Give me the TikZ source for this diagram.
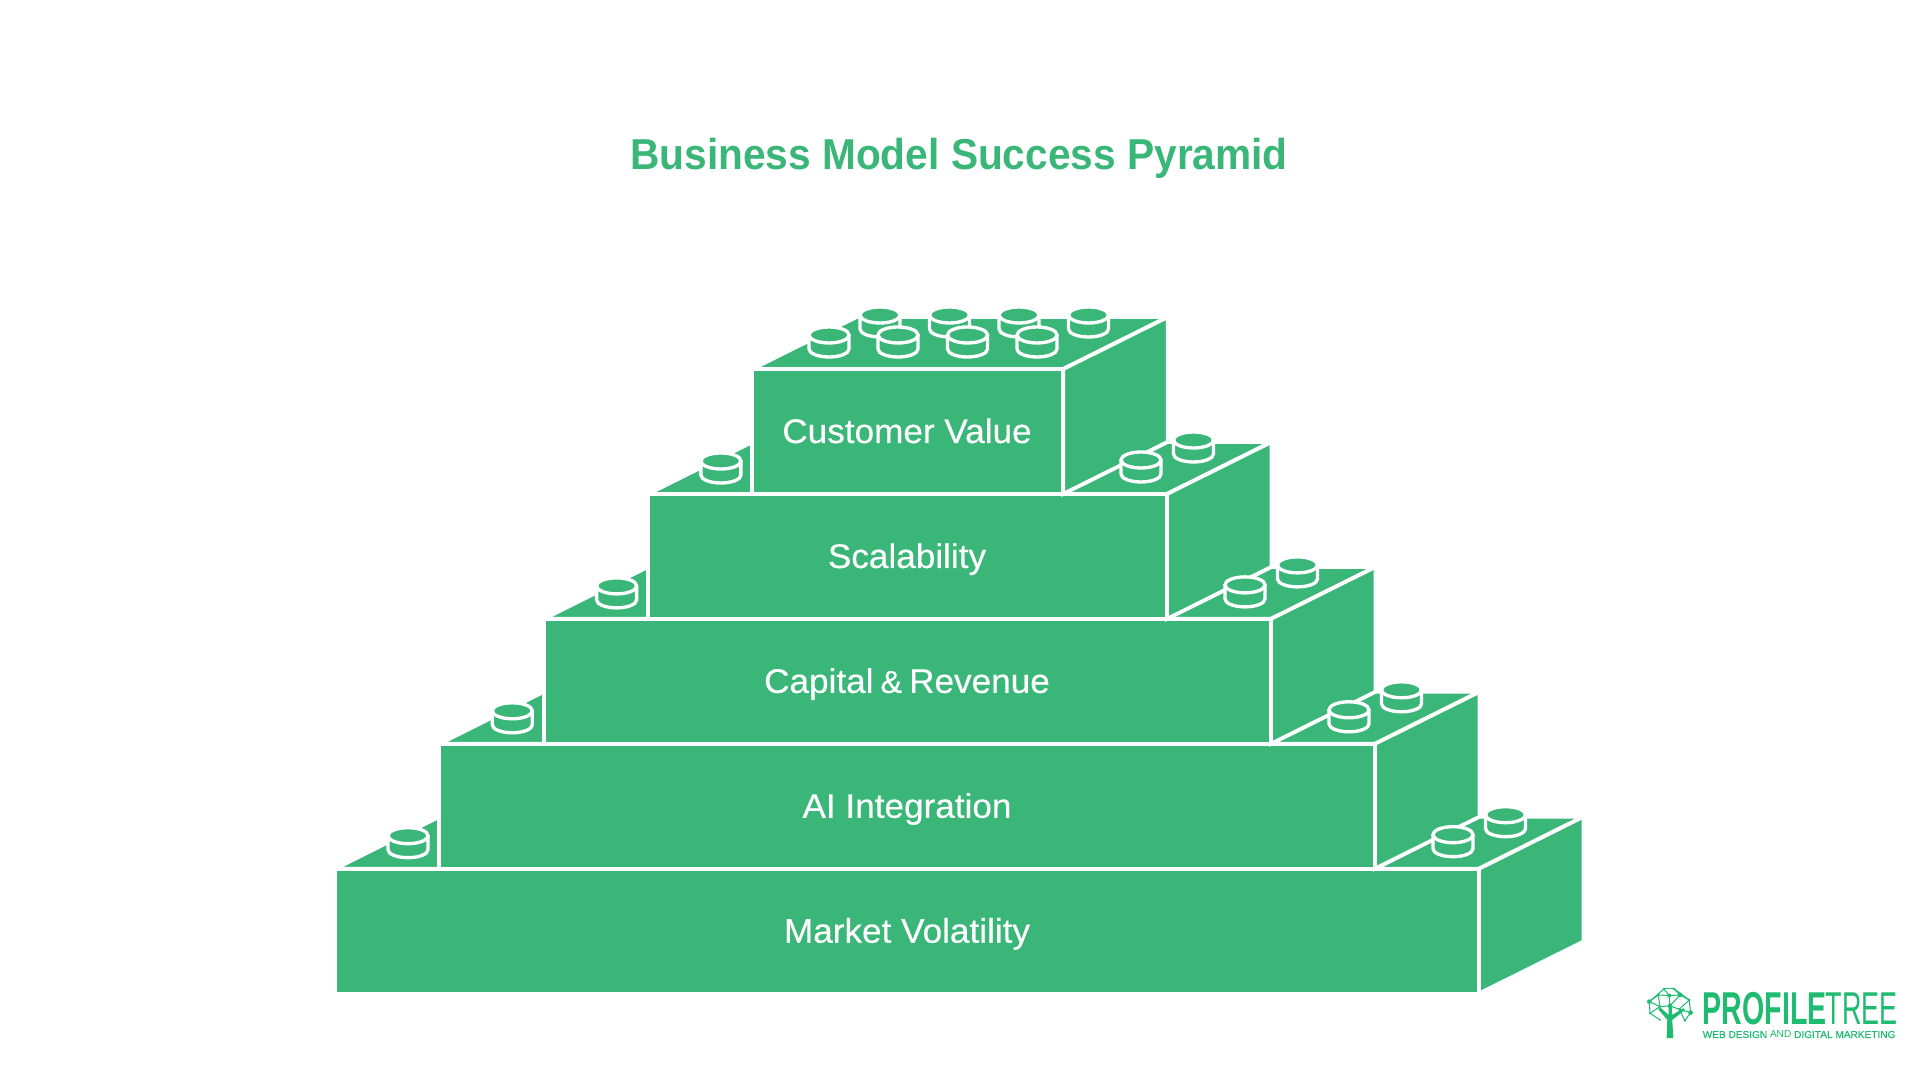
\documentclass[tikz,border=0pt]{standalone}
\usepackage{fontspec}
\setmainfont{Liberation Sans}
\newfontfamily\logofont[FakeStretch=0.62]{Liberation Sans}
\newfontfamily\treefont[FakeStretch=0.585]{Liberation Sans}
\newfontfamily\titlefont[FakeStretch=0.94]{Liberation Sans}
\newfontfamily\brickfont[FakeStretch=1.03,FakeBold=0.35]{Liberation Sans}
\newfontfamily\tagfont[FakeBold=0.5]{Liberation Sans}
\definecolor{brickgreen}{RGB}{58,182,121}
\definecolor{logogreen}{RGB}{30,187,112}

\tikzset{
  brickface/.style={fill=brickgreen, draw=white, line width=1.1pt, line join=miter},
  studline/.style={fill=brickgreen, draw=white, line width=0.95pt},
  bricklabel/.style={anchor=base, text=white, font=\brickfont\fontsize{9.7}{11}\selectfont},
  treeline/.style={draw=logogreen, line width=0.3pt},
  treedot/.style={fill=logogreen},
}

% one stud, (#1,#2) is the middle of its top
\newcommand{\stud}[2]{
  \draw[studline] (#1-20,#2) -- ++(0,14) arc[start angle=180, end angle=0, x radius=20, y radius=8] -- ++(0,-14);
  \draw[studline] (#1,#2) ellipse[x radius=20, y radius=8];
}

\begin{document}
\begin{tikzpicture}[x=0.01cm,y=-0.01cm]
  \useasboundingbox (0,0) rectangle (1920,1080);

  \node[anchor=base, text=brickgreen, font=\titlefont\fontsize{12.3}{14}\selectfont\bfseries] (title) at (959,170) {Business Model Success Pyramid};

  % bricks, bottom one first
  \foreach \l/\r/\t/\nm/\txt in {335/1479/868.7/market/Market Volatility,
                                 439.3/1375/743.8/ai/AI Integration,
                                 543.6/1271/618.9/capital/Capital\hspace{-0.8pt} {\fontsize{9}{11}\selectfont\&}\hspace{-0.8pt} Revenue,
                                 647.9/1167/494/scale/Scalability,
                                 752.2/1063.3/369/customer/Customer Value} {
    \draw[brickface] (\l,\t) -- ++(104.5,-52) -- (\r+104.5,\t-52) -- (\r,\t) -- cycle;
    \draw[brickface] (\r,\t) -- ++(104.5,-52) -- ++(0,124.9) -- (\r,\t+124.9) -- cycle;
    \draw[brickface] (\l,\t) rectangle (\r,\t+124.9);
    \node[bricklabel] (\nm) at (907,\t+74) {\txt};
  }

  % studs on the free steps
  \foreach \l/\r/\t in {335/1479/868.7, 439.3/1375/743.8, 543.6/1271/618.9, 647.9/1167/494} {
    \stud{\l+73}{\t-33}
    \stud{\r+26.5}{\t-54}
    \stud{\r-26}{\t-34}
  }

  % studs on the top brick
  \foreach \x in {880,949.5,1019,1088.5} {
    \stud{\x}{315}
  }
  \foreach \x in {829,898,967.5,1037} {
    \stud{\x}{335}
  }

  % logo
  \begin{scope}[shift={(1640,970)},x=0.00333cm,y=-0.00333cm]
    \fill[treedot] (80,205) -- (100,205) -- (97,150) -- (135,120) -- (130,115) -- (97,135) -- (95,108) -- (86,108) -- (86,135) -- (60,112) -- (55,118) -- (82,150) -- cycle;
    \foreach \a/\b/\c/\d in {28/95/72/57, 72/57/103/57, 103/57/148/90, 148/90/152/128, 152/128/135/152,
                             28/95/55/75, 55/75/88/77, 88/77/120/75, 120/75/148/90, 72/57/88/77, 103/57/120/75,
                             28/95/60/110, 60/110/55/75, 60/110/90/108, 90/108/88/77, 90/108/120/75, 90/108/118/118,
                             118/118/148/90, 118/118/152/128, 118/118/135/152, 28/95/30/130, 30/130/60/150, 60/110/30/130} {
      \draw[treeline] (\a,\b) -- (\c,\d);
    }
    \foreach \a/\b/\s in {28/95/7, 72/57/4, 103/57/4, 148/90/4, 120/75/7, 88/77/6, 55/75/4, 60/110/4,
                          90/108/7, 118/118/4, 152/128/7, 135/152/4, 30/130/3, 60/150/3} {
      \fill[treedot] (\a,\b) circle[radius=\s];
    }
  \end{scope}
  \node[anchor=base west, inner sep=0pt, text=logogreen, font=\logofont\fontsize{13.1}{15}\selectfont\bfseries] (profile) at (1702,1025) {PROFILE};
  \node[anchor=base west, inner sep=0pt, text=logogreen, font=\treefont\fontsize{13.1}{15}\selectfont] (tree) at (1825,1025) {TREE};
  \node[anchor=base west, inner sep=0pt, text=logogreen, font=\fontsize{2.87}{4}\selectfont] (tagline) at (1702,1038) {{\tagfont WEB DESIGN} AND {\tagfont DIGITAL MARKETING}};
\end{tikzpicture}
\end{document}
